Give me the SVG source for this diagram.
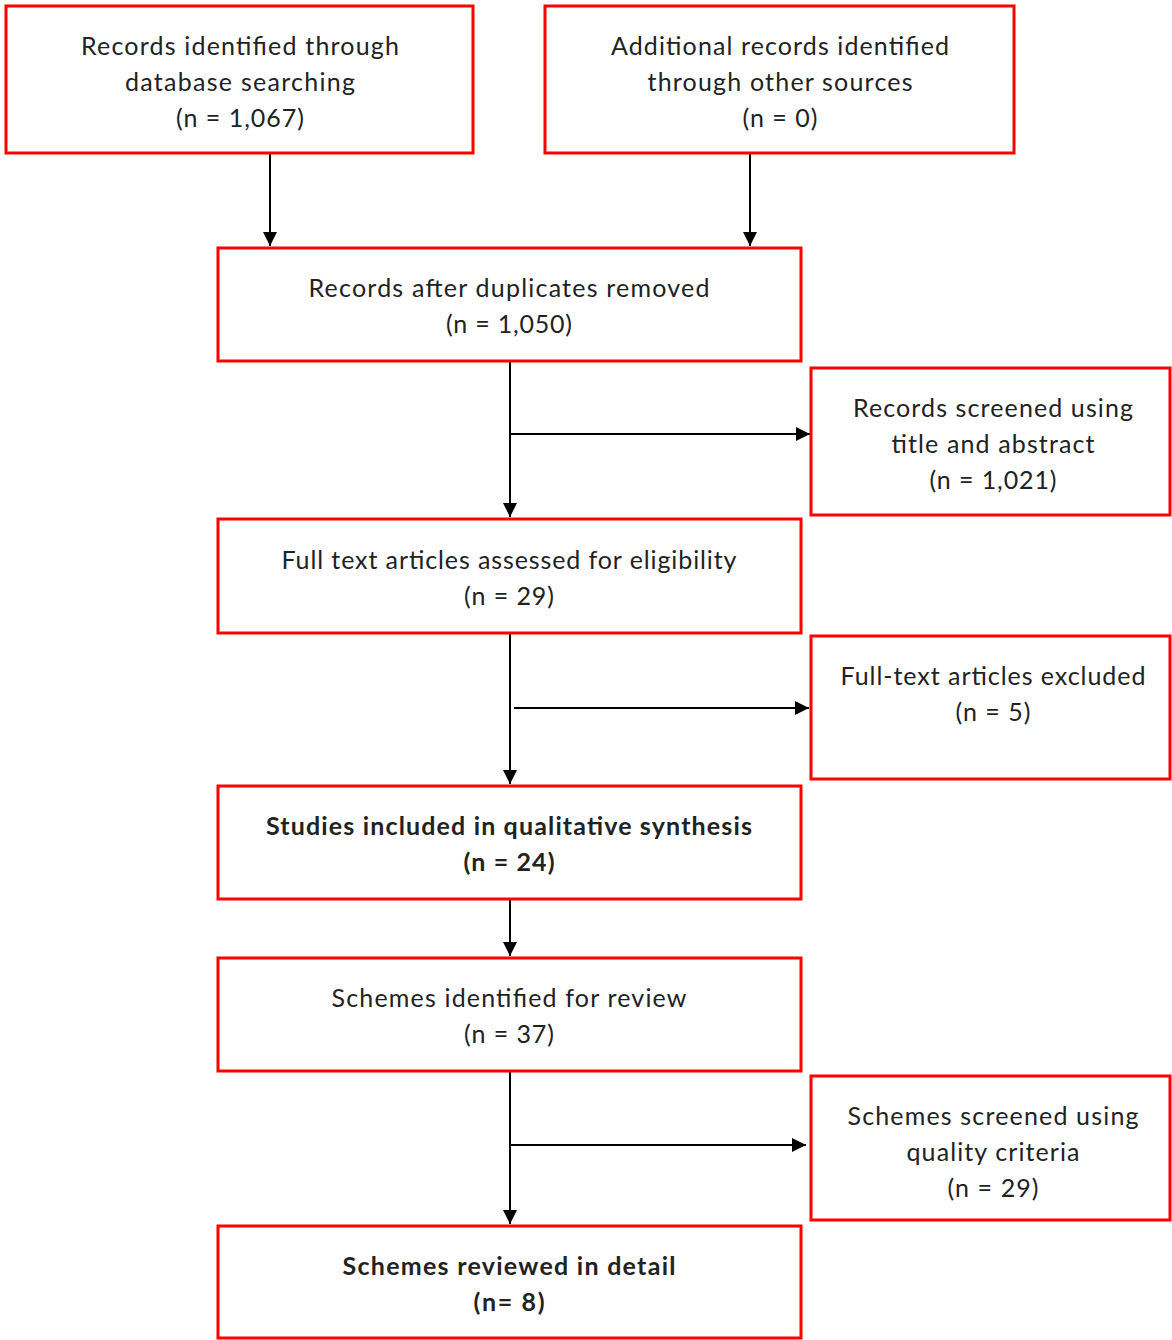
<svg xmlns="http://www.w3.org/2000/svg" width="1172" height="1340" viewBox="0 0 1172 1340">
<defs>
<style>
.box{fill:#ffffff;stroke:#ff0000;stroke-width:3}
.t{font-family:Lato,"Liberation Sans",sans-serif;font-size:25px;fill:#222222;text-anchor:middle}
.b{font-weight:bold}
.c{stroke:#000000;stroke-width:2;fill:none}
</style>
<marker id="ah" viewBox="0 0 10 10" refX="10" refY="5" markerWidth="7" markerHeight="7" markerUnits="strokeWidth" orient="auto">
<path d="M0,0 L10,5 L0,10 z" fill="#000000"/>
</marker>
</defs>
<rect width="1172" height="1340" fill="#ffffff"/>
<g id="connectors">
<path class="c" d="M270,153 V246" marker-end="url(#ah)"/>
<path class="c" d="M750,153 V246" marker-end="url(#ah)"/>
<path class="c" d="M510,361 V517" marker-end="url(#ah)"/>
<path class="c" d="M510,434 H810" marker-end="url(#ah)"/>
<path class="c" d="M510,633 V784" marker-end="url(#ah)"/>
<path class="c" d="M514,708 H809" marker-end="url(#ah)"/>
<path class="c" d="M510,899 V956" marker-end="url(#ah)"/>
<path class="c" d="M510,1071 V1224" marker-end="url(#ah)"/>
<path class="c" d="M510,1145 H806" marker-end="url(#ah)"/>
</g>
<g id="n1"><rect class="box" x="6" y="6" width="467" height="147"/>
<text class="t" x="240" y="55" textLength="318">Records identified through</text>
<text class="t" x="240" y="91" textLength="230">database searching</text>
<text class="t" x="240" y="127" textLength="128">(n = 1,067)</text></g>
<g id="n2"><rect class="box" x="545" y="6" width="469" height="147"/>
<text class="t" x="780" y="55" textLength="338">Additional records identified</text>
<text class="t" x="780" y="91" textLength="265">through other sources</text>
<text class="t" x="780" y="127" textLength="75">(n = 0)</text></g>
<g id="n3"><rect class="box" x="218" y="248" width="583" height="113"/>
<text class="t" x="509" y="297" textLength="401">Records after duplicates removed</text>
<text class="t" x="509" y="333" textLength="126">(n = 1,050)</text></g>
<g id="n4"><rect class="box" x="811" y="368" width="359" height="147"/>
<text class="t" x="993" y="417" textLength="280">Records screened using</text>
<text class="t" x="993" y="453" textLength="203">title and abstract</text>
<text class="t" x="993" y="489" textLength="127">(n = 1,021)</text></g>
<g id="n5"><rect class="box" x="218" y="519" width="583" height="114"/>
<text class="t" x="509" y="569" textLength="455">Full text articles assessed for eligibility</text>
<text class="t" x="509" y="605" textLength="90">(n = 29)</text></g>
<g id="n6"><rect class="box" x="811" y="636" width="359" height="143"/>
<text class="t" x="993" y="685" textLength="305">Full-text articles excluded</text>
<text class="t" x="993" y="721" textLength="75">(n = 5)</text></g>
<g id="n7"><rect class="box" x="218" y="786" width="583" height="113"/>
<text class="t b" x="509" y="835" textLength="486">Studies included in qualitative synthesis</text>
<text class="t b" x="509" y="871" textLength="91">(n = 24)</text></g>
<g id="n8"><rect class="box" x="218" y="958" width="583" height="113"/>
<text class="t" x="509" y="1007" textLength="355">Schemes identified for review</text>
<text class="t" x="509" y="1043" textLength="90">(n = 37)</text></g>
<g id="n9"><rect class="box" x="811" y="1076" width="359" height="144"/>
<text class="t" x="993" y="1125" textLength="291">Schemes screened using</text>
<text class="t" x="993" y="1161" textLength="173">quality criteria</text>
<text class="t" x="993" y="1197" textLength="91">(n = 29)</text></g>
<g id="n10"><rect class="box" x="218" y="1226" width="583" height="112"/>
<text class="t b" x="509" y="1275" textLength="333">Schemes reviewed in detail</text>
<text class="t b" x="509" y="1311" textLength="71">(n= 8)</text></g>
</svg>
